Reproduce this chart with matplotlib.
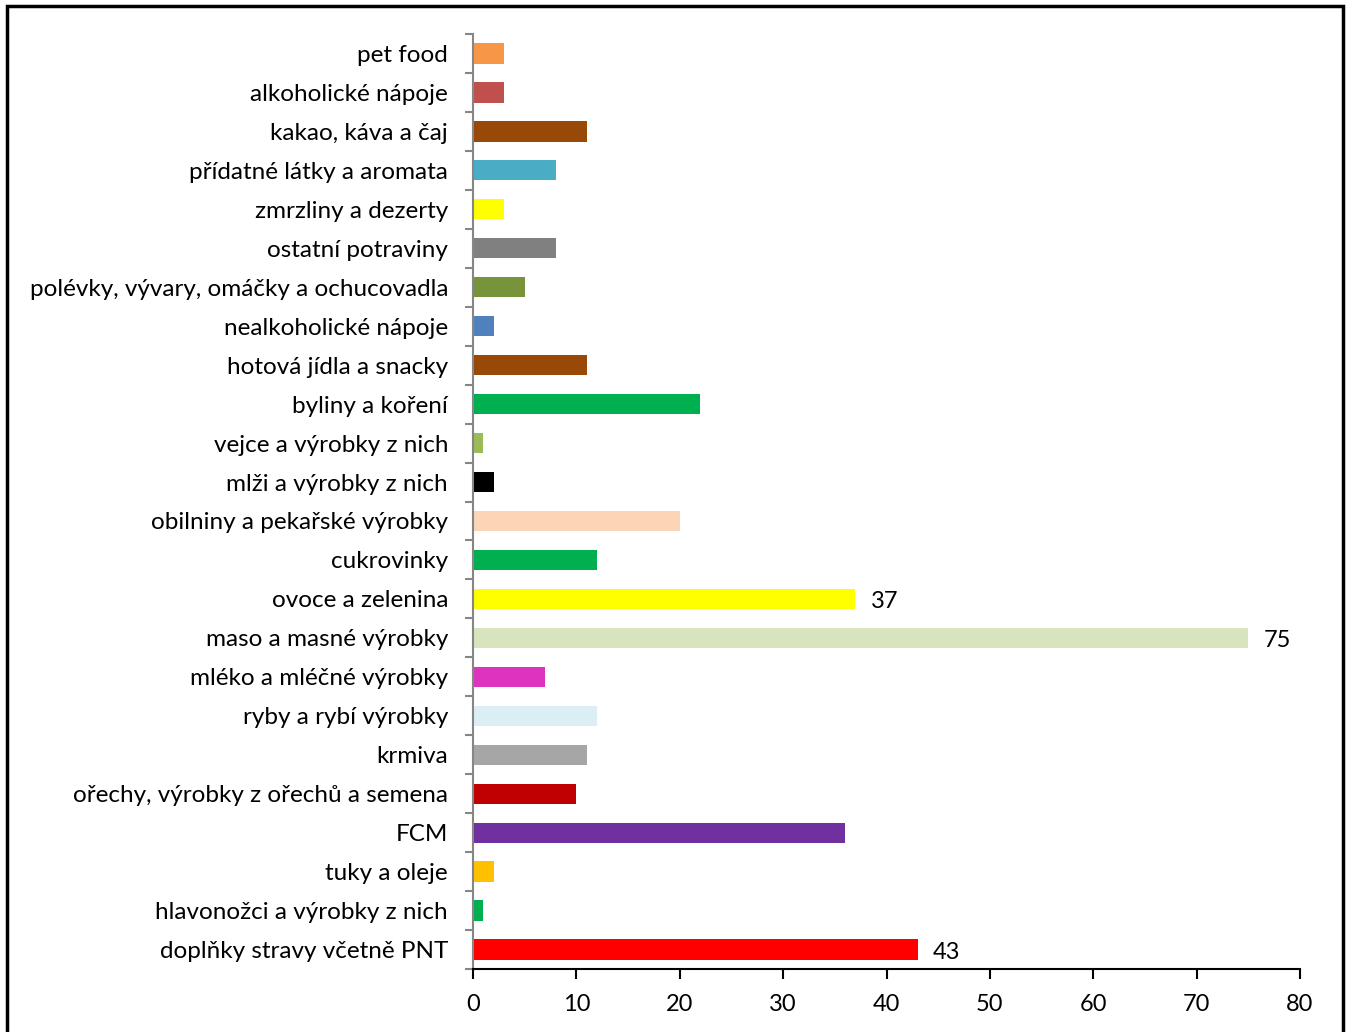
import matplotlib
matplotlib.use("Agg")
import matplotlib.pyplot as plt
from matplotlib.patches import Rectangle

categories = [
    "pet food", "alkoholické nápoje", "kakao, káva a čaj", "přídatné látky a aromata",
    "zmrzliny a dezerty", "ostatní potraviny", "polévky, vývary, omáčky a ochucovadla",
    "nealkoholické nápoje", "hotová jídla a snacky", "byliny a koření",
    "vejce a výrobky z nich", "mlži a výrobky z nich", "obilniny a pekařské výrobky",
    "cukrovinky", "ovoce a zelenina", "maso a masné výrobky", "mléko a mléčné výrobky",
    "ryby a rybí výrobky", "krmiva", "ořechy, výrobky z ořechů a semena", "FCM",
    "tuky a oleje", "hlavonožci a výrobky z nich", "doplňky stravy včetně PNT",
]
values = [3, 3, 11, 8, 3, 8, 5, 2, 11, 22, 1, 2, 20, 12, 37, 75, 7, 12, 11, 10, 36, 2, 1, 43]
colors = [
    "#F79646", "#C0504D", "#984807", "#4BACC6", "#FFFF00", "#808080", "#77933C",
    "#4F81BD", "#984807", "#00B050", "#9BBB59", "#000000", "#FBD5B5", "#00B050",
    "#FFFF00", "#D7E4BD", "#DE33BE", "#DBEEF4", "#A6A6A6", "#C00000", "#7030A0",
    "#FFC000", "#00B050", "#FF0000",
]
labeled = {"ovoce a zelenina", "maso a masné výrobky", "doplňky stravy včetně PNT"}
xticks = [0, 10, 20, 30, 40, 50, 60, 70, 80]

plt.rcParams["font.family"] = ["Lato", "DejaVu Sans"]

W, H = 1349, 1032
fig = plt.figure(figsize=(W / 100, H / 100), dpi=100)
ax = fig.add_axes([473 / W, 1 - 969 / H, (1300 - 473) / W, (969 - 34) / H])

n = len(categories)
ypos = list(range(n))[::-1]
ax.barh(ypos, values, height=0.52, color=colors)
ax.set_xlim(0, 80)
ax.set_ylim(-0.5, n - 0.5)
ax.set_xticks(xticks)
ax.set_xticklabels([str(t) for t in xticks], fontsize=17)
ax.set_yticks(ypos)
ax.set_yticklabels(categories, fontsize=17.5)
ax.tick_params(axis="y", length=0, pad=18)
# boundary ticks on y axis
ax.set_yticks([i - 0.5 for i in range(n + 1)], minor=True)
ax.tick_params(axis="y", which="minor", length=6, color="#868686", width=1.5, direction="out")
ax.tick_params(axis="x", length=7, width=1.5, color="black", pad=11)

for s in ["top", "right"]:
    ax.spines[s].set_visible(False)
ax.spines["left"].set_color("#868686")
ax.spines["left"].set_linewidth(1.5)
ax.spines["bottom"].set_color("black")
ax.spines["bottom"].set_linewidth(1.5)

for y, v, c in zip(ypos, values, categories):
    if c in labeled:
        ax.annotate(str(v), (v, y), xytext=(11, -2), textcoords="offset points",
                    va="center", ha="left", fontsize=17)

fig.patches.append(Rectangle((7 / W, -0.01), (1343 - 7) / W, 1 - 6 / H + 0.01,
                             transform=fig.transFigure, fill=False,
                             edgecolor="black", linewidth=2.5))

fig.savefig("out.png", dpi=100)
